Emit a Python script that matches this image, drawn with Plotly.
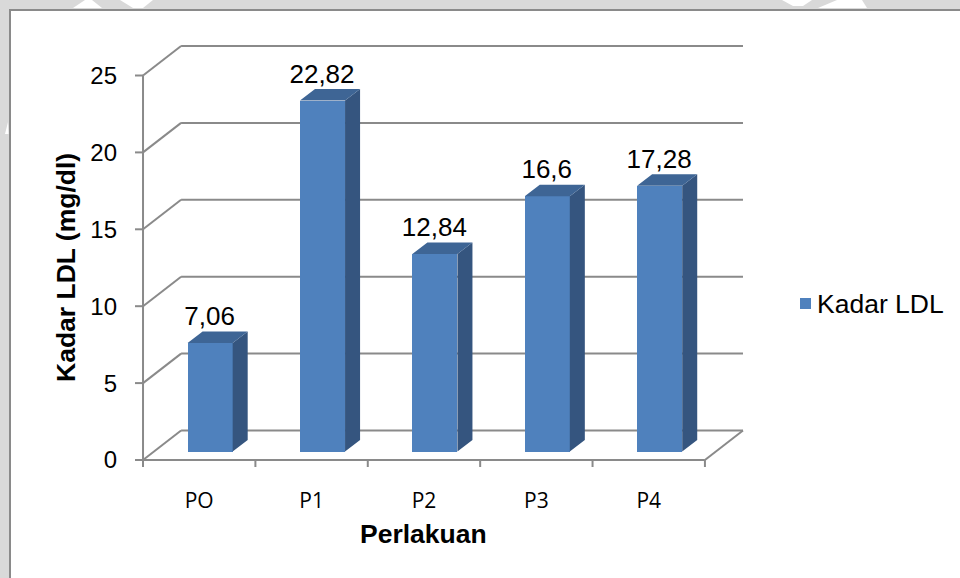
import plotly.graph_objects as go

# ---- data ----
CATEGORIES = ["PO", "P1", "P2", "P3", "P4"]
VALUES = [7.06, 22.82, 12.84, 16.6, 17.28]
Y_TICKS = [0, 5, 10, 15, 20, 25]
SERIES_NAME = "Kadar LDL"
X_POS = list(range(len(CATEGORIES)))

# ---- pseudo-3D geometry, in axis units ----
PX_X = 112.2      # pixels per category
PX_Y = 15.38      # pixels per value unit
WALL_DX = 38 / PX_X
WALL_DY = 29.5 / PX_Y
BAR_DX = 10.9 / PX_X
BAR_FLOOR = 8.5 / PX_Y
BAR_W = 45 / PX_X
SIDE_DX = 15 / PX_X
SIDE_DY = 11.5 / PX_Y
TICK_DX = 8 / PX_X
TICK_DY = 7 / PX_Y
PAD_DX_L = 13 / PX_X
PAD_DX_R = 6 / PX_X
PAD_DY_T = 6 / PX_Y
PAD_DY_B = 10 / PX_Y
X0, X1 = -0.5, 4.5
GREY = "#8a8a8a"

L, R, T, B = 130, 749, 40, 470
def pxx(X): return (X - L) / (R - L)
def pxy(Y): return 1 - (Y - T) / (B - T)

fig = go.Figure()

# front faces
fig.add_trace(go.Bar(
    x=[i + BAR_DX for i in X_POS], y=VALUES, base=BAR_FLOOR, width=BAR_W,
    marker=dict(color="#4F81BD", line=dict(width=0)),
    name=SERIES_NAME, showlegend=False, hoverinfo="skip"))

# side and top faces, labels
sx, sy, tx, ty = [], [], [], []
for i, v in zip(X_POS, VALUES):
    xl = i + BAR_DX - BAR_W / 2
    xr = i + BAR_DX + BAR_W / 2
    yb = BAR_FLOOR
    yt = BAR_FLOOR + v
    sx += [xr, xr + SIDE_DX, xr + SIDE_DX, xr, xr, None]
    sy += [yb, yb + SIDE_DY, yt + SIDE_DY, yt, yb, None]
    tx += [xl, xl + SIDE_DX, xr + SIDE_DX, xr, xl, None]
    ty += [yt, yt + SIDE_DY, yt + SIDE_DY, yt, yt, None]
fig.add_trace(go.Scatter(x=sx, y=sy, mode="lines", fill="toself", fillcolor="#35557F",
                         line=dict(width=0), showlegend=False, hoverinfo="skip"))
fig.add_trace(go.Scatter(x=tx, y=ty, mode="lines", fill="toself", fillcolor="#3E6595",
                         line=dict(width=0), showlegend=False, hoverinfo="skip"))
fig.add_trace(go.Scatter(
    x=[i + BAR_DX - 0.5 / PX_X for i in X_POS],
    y=[BAR_FLOOR + v + SIDE_DY for v in VALUES],
    mode="text", text=[f"{v:g}".replace(".", ",") for v in VALUES],
    textposition="top center", textfont=dict(family="Liberation Sans", size=26, color="#000000"),
    showlegend=False, hoverinfo="skip", cliponaxis=False))

# page frame and the white marks crossing the grey band
shapes = [dict(type="rect", xref="paper", yref="paper",
               x0=pxx(10), x1=pxx(1000), y0=pxy(10), y1=pxy(640),
               fillcolor="#FFFFFF", line=dict(color=GREY, width=2), layer="below")]
MARKS = [
    [(73, 8), (85, 0), (92, 0), (102, 8)],
    [(120, 0), (133, 8), (143, 8), (153, 0)],
    [(782, 0), (793, 6), (803, 6), (812, 0)],
    [(818, 8), (837, 0), (862, 0), (867, 8)],
    [(5, 134), (8, 122), (8.5, 134)],
]
for m in MARKS:
    path = "M " + " L ".join(f"{pxx(a):.5f},{pxy(b):.5f}" for a, b in m) + " Z"
    shapes.append(dict(type="path", xref="paper", yref="paper", path=path,
                       fillcolor="#FFFFFF", line=dict(width=0), layer="below"))

# walls, floor and ticks, below the bars
def seg(x0, y0, x1, y1):
    shapes.append(dict(type="line", xref="x", yref="y", x0=x0, y0=y0, x1=x1, y1=y1,
                       line=dict(color=GREY, width=2), layer="below"))
for t in Y_TICKS:
    seg(X0 + WALL_DX, t + WALL_DY, X1 + WALL_DX, t + WALL_DY)
    seg(X0, t, X0 + WALL_DX, t + WALL_DY)
    seg(X0 - TICK_DX, t, X0, t)
seg(X0, 0, X0, Y_TICKS[-1])
seg(X0, 0, X1, 0)
seg(X1, 0, X1 + WALL_DX, WALL_DY)
for k in range(len(CATEGORIES) + 1):
    seg(X0 + k, -TICK_DY, X0 + k, 0)

# legend key
shapes.append(dict(type="rect", xref="paper", yref="paper",
                   x0=pxx(800), x1=pxx(811), y0=pxy(298), y1=pxy(309),
                   fillcolor="#4F81BD", line=dict(width=0), layer="below"))

fig.update_layout(
    width=960, height=578,
    margin=dict(l=L, r=960 - R, t=T, b=578 - B, pad=0),
    paper_bgcolor="#D9D9D9", plot_bgcolor="rgba(0,0,0,0)",
    font=dict(family="Liberation Sans", color="#000000"),
    bargap=0, shapes=shapes, showlegend=False,
    xaxis=dict(range=[X0 - PAD_DX_L, X1 + WALL_DX + PAD_DX_R],
               tickmode="array", tickvals=X_POS, ticktext=CATEGORIES,
               ticks="", showgrid=False, zeroline=False, showline=False,
               tickfont=dict(family="Open Sans", size=21), ticklabelstandoff=16),
    yaxis=dict(range=[-PAD_DY_B, Y_TICKS[-1] + WALL_DY + PAD_DY_T], tickmode="array", tickvals=Y_TICKS,
               ticks="", showgrid=False, zeroline=False, showline=False,
               tickfont=dict(family="Liberation Sans", size=24), ticklabelstandoff=12),
    annotations=[
        dict(text=SERIES_NAME, xref="paper", yref="paper", x=pxx(815), y=pxy(304),
             showarrow=False, xanchor="left", yanchor="middle",
             font=dict(family="Liberation Sans", size=26.5)),
        dict(text="<b>Perlakuan</b>", xref="paper", yref="paper", x=pxx(423), y=pxy(534),
             showarrow=False, xanchor="center", yanchor="middle",
             font=dict(family="Liberation Sans", size=26.5)),
        dict(text="<b>Kadar LDL (mg/dl)</b>", xref="paper", yref="paper", x=pxx(66), y=pxy(268),
             showarrow=False, textangle=-90, xanchor="center", yanchor="middle",
             font=dict(family="Liberation Sans", size=26.5)),
    ],
)

fig.write_html("out.html", config={"displayModeBar": False},
               post_script="document.body.style.margin='0';")
